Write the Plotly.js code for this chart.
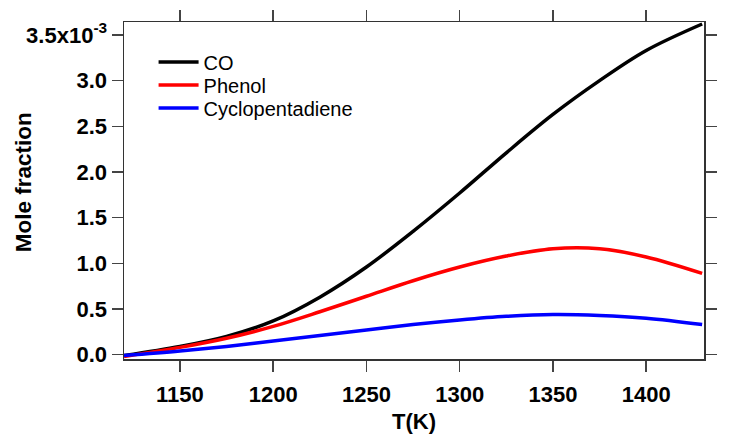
<!DOCTYPE html>
<html>
<head>
<meta charset="utf-8">
<script src="https://cdn.plot.ly/plotly-3.0.1.min.js"></script>
<style>html,body{margin:0;padding:0;background:#fff;}#chart{width:732px;height:448px;}</style>
</head>
<body>
<div id="chart"></div>
<script>
// Temperature (K)
const temperature = [1120, 1150, 1175, 1200, 1225, 1250, 1275, 1300, 1325, 1350, 1375, 1400, 1430];
// Mole fractions, in units of 1e-3
const coValues = [-0.01, 0.09, 0.20, 0.37, 0.63, 0.96, 1.35, 1.77, 2.21, 2.63, 3.00, 3.33, 3.62];
const phenolValues = [-0.02, 0.08, 0.18, 0.31, 0.47, 0.64, 0.81, 0.96, 1.08, 1.16, 1.16, 1.07, 0.89];
const cpdValues = [-0.01, 0.04, 0.09, 0.15, 0.21, 0.27, 0.33, 0.38, 0.42, 0.44, 0.43, 0.40, 0.33];
const seriesNames = ['CO', 'Phenol', 'Cyclopentadiene'];
const yTickVals = [0, 0.5, 1.0, 1.5, 2.0, 2.5, 3.0, 3.5];
const yTickText = ['0.0', '0.5', '1.0', '1.5', '2.0', '2.5', '3.0', '3.5x10<sup>-3</sup>'];
const xTickVals = [1150, 1200, 1250, 1300, 1350, 1400];
const xTitle = 'T(K)';
const yTitle = 'Mole fraction';

const colors = ['#000000', '#ff0000', '#0000ff'];
const legendIds = ['legend', 'legend2', 'legend3'];
const series = [coValues, phenolValues, cpdValues];
const traces = series.map((vals, i) => ({
  x: temperature, y: vals, name: seriesNames[i], type: 'scatter', mode: 'lines',
  legend: legendIds[i],
  line: {color: colors[i], width: 3.5, shape: 'spline', smoothing: 1}
}));

const fam = 'Liberation Sans, Arial, sans-serif';
const axisCommon = {
  showline: true, linecolor: '#333', linewidth: 1.5, mirror: 'allticks',
  ticks: 'outside', ticklen: 11, tickwidth: 1.5, tickcolor: '#444',
  showgrid: false, zeroline: false, tickfont: {family: fam, size: 22, color: '#000', weight: 'bold'}
};
const legendY = [0.881, 0.813, 0.745];
const legendBase = (yy) => ({x: 0.051, y: yy, xanchor: 'left', yanchor: 'middle', bgcolor: 'rgba(0,0,0,0)',
  borderwidth: 0, itemwidth: 40, font: {family: fam, size: 20, color: '#000'}});

const layout = {
  width: 732, height: 448,
  margin: {l: 124, r: 28, t: 22, b: 89},
  paper_bgcolor: '#fff', plot_bgcolor: '#fff',
  font: {family: fam, size: 22, color: '#000'},
  showlegend: true,
  legend: legendBase(legendY[0]),
  legend2: legendBase(legendY[1]),
  legend3: legendBase(legendY[2]),
  xaxis: Object.assign({}, axisCommon, {
    range: [1120, 1431], tickvals: xTickVals, ticktext: xTickVals.map(String), ticklabelstandoff: 4,
    title: {text: '<b>' + xTitle + '</b>', font: {family: fam, size: 22, color: '#000'}, standoff: 7}
  }),
  yaxis: Object.assign({}, axisCommon, {
    range: [-0.047, 3.642], tickvals: yTickVals, ticktext: yTickText
  }),
  annotations: [{
    text: '<b>' + yTitle + '</b>', xref: 'paper', yref: 'paper', x: -0.174, y: 0.525,
    xanchor: 'center', yanchor: 'middle', textangle: -90, showarrow: false,
    font: {family: fam, size: 22.5, color: '#000'}
  }]
};

Plotly.newPlot('chart', traces, layout, {displayModeBar: false, staticPlot: true});
</script>
</body>
</html>
